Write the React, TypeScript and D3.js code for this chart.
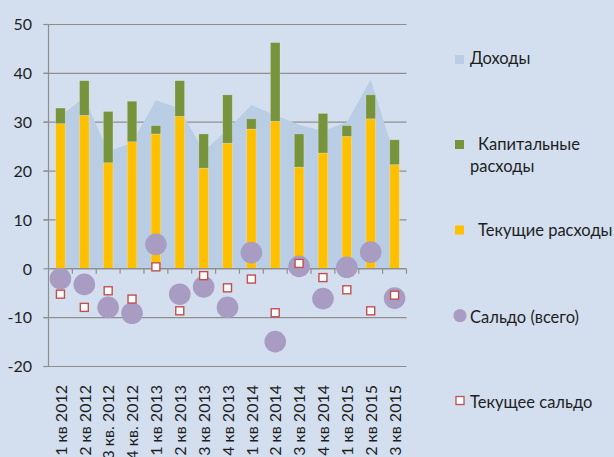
import React from 'react';
import * as d3 from 'd3';

// Quarterly budget data
const quarters = [
  '1 кв 2012', '2 кв 2012', '3 кв. 2012', '4 кв. 2012',
  '1 кв 2013', '2 кв 2013', '3 кв 2013', '4 кв 2013',
  '1 кв 2014', '2 кв 2014', '3 кв 2014', '4 кв 2014',
  '1 кв 2015', '2 кв 2015', '3 кв 2015',
];
const revenue = [31.3, 35, 24, 25.8, 34.5, 32.8, 24, 28.5, 33.5, 31.5, 29.5, 28.2, 30, 38.7, 23.2];
const currentSpend = [29.7, 31.4, 21.7, 26, 27.6, 31.2, 20.6, 25.7, 28.6, 30.2, 20.8, 23.7, 27.1, 30.7, 21.3];
const capitalSpend = [3.2, 7.1, 10.5, 8.3, 1.7, 7.3, 7, 9.9, 2.1, 16.1, 6.8, 8.1, 2.2, 4.9, 5.1];
const balanceTotal = [-2, -3.2, -7.9, -9.1, 5, -5.2, -3.7, -7.9, 3.3, -14.9, 0.5, -6.1, 0.3, 3.4, -6];
const balanceCurrent = [-5.2, -7.9, -4.5, -6.2, 0.4, -8.6, -1.4, -3.9, -2.1, -9, 1.1, -1.8, -4.3, -8.6, -5.4];
const yTicks = [-20, -10, 0, 10, 20, 30, 40, 50];

const W = 614;
const H = 457;
const FONT = 'Lato, "Open Sans", sans-serif';
const TEXT = '#1e1e1e';
const GRID = '#8f8f8f';

const colors = {
  bg: '#d3dfee',
  revenue: '#b9cde5',
  current: '#ffc000',
  capital: '#77933c',
  total: '#a89cc2',
  square: '#c0504d',
};

const App = () => {
  const x = d3.scaleBand<string>().domain(quarters).range([48.5, 406.5]);
  const y = d3.scaleLinear().domain([-20, 50]).range([366.5, 24.5]);
  const cx = (i: number) => (x(quarters[i]) as number) + x.bandwidth() / 2;
  const barW = x.bandwidth() * 0.4;

  const area = d3.area<number>()
    .x((d, i) => cx(i))
    .y0(y(0))
    .y1(d => y(d));

  const x0 = x.range()[0];
  const x1 = x.range()[1];

  return (
    <svg width={W} height={H} style={{ position: 'absolute', left: 0, top: 0, background: colors.bg }}>
      <rect x={0} y={0} width={W} height={H} fill={colors.bg} />

      {/* gridlines (under the area) */}
      {yTicks.filter(t => t !== 0).map(t => (
        <line key={t} x1={x0 - 5} x2={x1} y1={y(t)} y2={y(t)} stroke={GRID} strokeWidth={1.2} />
      ))}

      {/* Доходы */}
      <path d={area(revenue) || ''} fill={colors.revenue} />

      {/* stacked bars */}
      {quarters.map((q, i) => (
        <g key={q}>
          <rect x={cx(i) - barW / 2} width={barW} y={y(currentSpend[i])}
            height={y(0) - y(currentSpend[i])} fill={colors.current}
            stroke="rgba(255,255,255,0.3)" strokeWidth={0.7} />
          <rect x={cx(i) - barW / 2} width={barW} y={y(currentSpend[i] + capitalSpend[i])}
            height={y(currentSpend[i]) - y(currentSpend[i] + capitalSpend[i])} fill={colors.capital}
            stroke="rgba(255,255,255,0.3)" strokeWidth={0.7} />
        </g>
      ))}

      {/* axes */}
      <line x1={x0} x2={x0} y1={y(50)} y2={y(-20)} stroke={GRID} strokeWidth={1.2} />
      {yTicks.map(t => (
        <line key={'t' + t} x1={x0 - 5} x2={x0} y1={y(t)} y2={y(t)} stroke={GRID} strokeWidth={1.2} />
      ))}
      <line x1={x0} x2={x1} y1={y(0)} y2={y(0)} stroke={GRID} strokeWidth={1.4} />
      {quarters.map((q, i) => (
        <line key={'c' + q} x1={(x(q) as number) + x.bandwidth()} x2={(x(q) as number) + x.bandwidth()}
          y1={y(0)} y2={y(0) + 5} stroke={GRID} strokeWidth={1.2} />
      ))}

      {/* y tick labels */}
      {yTicks.map(t => (
        <text key={'l' + t} x={32} y={y(t)} dy="0.36em" textAnchor="end"
          fontFamily={FONT} fontSize={16} fill={TEXT}>{t}</text>
      ))}

      {/* category labels */}
      {quarters.map((q, i) => (
        <text key={'q' + q} transform={`translate(${cx(i) + 0.5},385) rotate(-90)`} dy="0.36em"
          textAnchor="end" fontFamily={FONT} fontSize={16} fill={TEXT}>{q}</text>
      ))}

      {/* Сальдо (всего) */}
      {balanceTotal.map((v, i) => (
        <circle key={'b' + i} cx={cx(i)} cy={y(v)} r={10.8} fill={colors.total} />
      ))}

      {/* Текущее сальдо */}
      {balanceCurrent.map((v, i) => (
        <rect key={'s' + i} x={cx(i) - 4} y={y(v) - 4} width={8} height={8}
          fill="#fff" stroke={colors.square} strokeWidth={1.4} />
      ))}

      {/* legend */}
      <g fontFamily={FONT} fontSize={16.5} fill={TEXT}>
        <rect x={455} y={55} width={9} height={9} fill={colors.revenue} />
        <text x={470} y={63.5}>Доходы</text>

        <rect x={455} y={140} width={9} height={9} fill={colors.capital} />
        <text x={478} y={150}>Капитальные</text>
        <text x={470} y={171.5}>расходы</text>

        <rect x={455} y={225.5} width={9} height={9} fill={colors.current} />
        <text x={478} y={236}>Текущие расходы</text>

        <circle cx={460} cy={315.7} r={6.6} fill={colors.total} />
        <text x={470} y={322.5}>Сальдо (всего)</text>

        <rect x={456} y={396.5} width={8} height={8} fill="#fff" stroke={colors.square} strokeWidth={1.3} />
        <text x={470} y={407.5}>Текущее сальдо</text>
      </g>
    </svg>
  );
};

export default App;
